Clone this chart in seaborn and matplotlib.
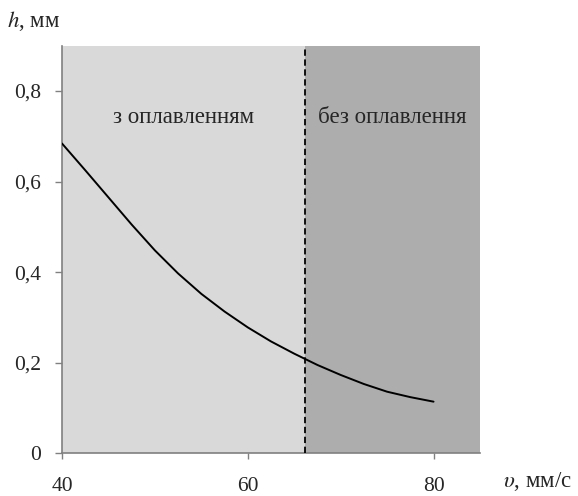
import matplotlib
matplotlib.use("Agg")
import matplotlib.pyplot as plt
import seaborn as sns
import pandas as pd

# data
speed = [40, 42.5, 45, 47.5, 50, 52.5, 55, 57.5, 60, 62.5, 65, 67.5, 70, 72.5, 75, 77.5, 80]
depth = [0.684, 0.625, 0.565, 0.505, 0.448, 0.397, 0.352, 0.313, 0.278, 0.247, 0.220,
         0.195, 0.173, 0.153, 0.136, 0.124, 0.114]
x_ticks = [40, 60, 80]
x_tick_labels = ["40", "60", "80"]
y_ticks = [0, 0.2, 0.4, 0.6, 0.8]
y_tick_labels = ["0", "0,2", "0,4", "0,6", "0,8"]
boundary = 66.2
region_labels = ["з оплавленням", "без оплавлення"]

sns.set_style("white")
plt.rcParams["font.family"] = ["Liberation Serif", "DejaVu Serif"]
plt.rcParams["mathtext.fontset"] = "stix"

fig = plt.figure(figsize=(5.78, 4.96), dpi=100)
ax = fig.add_axes([0.1073, 0.0861, 0.7231, 0.8218])

xmin, xmax = 40, 85
ax.axvspan(xmin, boundary, color="#d9d9d9", lw=0, zorder=0)
ax.axvspan(boundary, xmax, color="#adadad", lw=0, zorder=0)

df = pd.DataFrame({"v": speed, "h": depth})
sns.lineplot(data=df, x="v", y="h", ax=ax, color="black", lw=1.4, zorder=3)
ax.axvline(boundary, color="black", lw=1.3, ls=(0, (3.5, 2)), zorder=4)

ax.set_xlim(xmin, xmax)
ax.set_ylim(0, 0.9)
ax.set_xticks(x_ticks)
ax.set_xticklabels(x_tick_labels)
ax.set_yticks(y_ticks)
ax.set_yticklabels(y_tick_labels)
ax.set_xlabel("")
ax.set_ylabel("")

for s in ["top", "right"]:
    ax.spines[s].set_visible(False)
for s in ["left", "bottom"]:
    ax.spines[s].set_color("#808080")
    ax.spines[s].set_linewidth(1.2)

ax.tick_params(axis="x", direction="out", length=4, width=1, color="#808080",
               pad=13, labelsize=15.5)
ax.tick_params(axis="y", direction="out", length=5, width=1, color="#808080",
               pad=10, labelsize=15.5)
ax.tick_params(bottom=True, left=True)

ax.text((xmin + boundary) / 2, 0.742, region_labels[0], ha="center", va="center", fontsize=16.5)
ax.text((boundary + xmax) / 2, 0.742, region_labels[1], ha="center", va="center", fontsize=16.5)

fig.text(0.012, 0.958, "$h$, мм", fontsize=16.5, ha="left", va="center")
fig.text(0.99, 0.03, r"$\upsilon$, мм/с", fontsize=16.5, ha="right", va="center")

fig.savefig("out.png", dpi=100)
